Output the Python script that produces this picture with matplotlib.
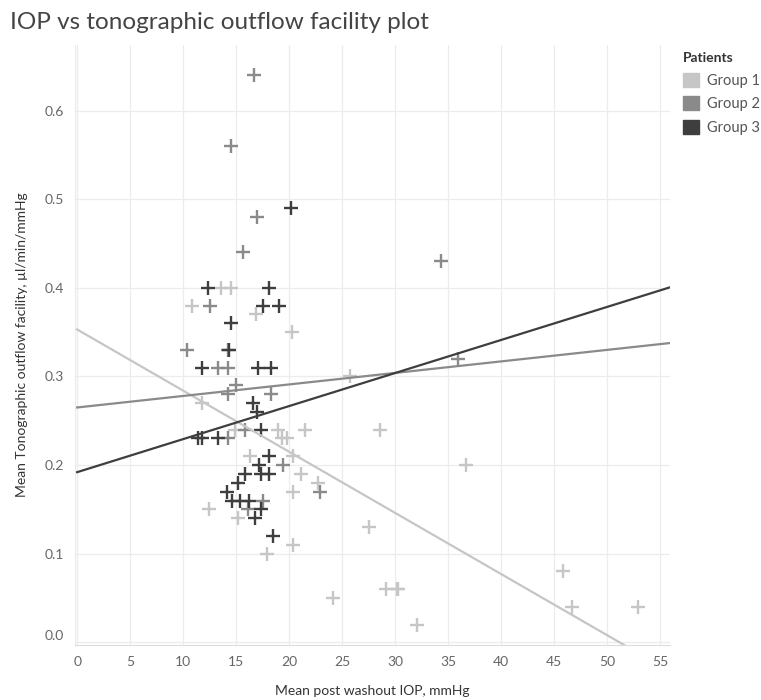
import numpy as np
import matplotlib.pyplot as plt
from matplotlib.patches import Patch

plt.rcParams['font.family'] = ['Lato', 'DejaVu Sans']

# mean post washout IOP (mmHg) and tonographic outflow facility per patient group
g1_iop = [13.6, 14.5, 10.8, 16.9, 20.3, 25.7, 11.8, 14.9, 18.9, 21.5, 28.6,
          19.3, 19.8, 16.3, 20.4, 36.7, 21.1, 22.7, 20.4, 12.4, 15.2, 27.5,
          20.4, 17.9, 45.8, 29.1, 30.2, 30.3, 24.1, 46.7, 52.9, 32.1]
g1_fac = [0.40, 0.40, 0.38, 0.37, 0.35, 0.30, 0.27, 0.24, 0.24, 0.24, 0.24,
          0.23, 0.23, 0.21, 0.21, 0.20, 0.19, 0.18, 0.17, 0.15, 0.14, 0.13,
          0.11, 0.10, 0.08, 0.06, 0.06, 0.06, 0.05, 0.04, 0.04, 0.02]

g2_iop = [16.7, 14.5, 17.0, 15.6, 34.3, 12.5, 10.4, 14.2, 13.3, 14.2, 35.9,
          15.0, 14.2, 18.3, 14.2, 15.8, 19.4, 17.5, 22.9, 16.1]
g2_fac = [0.64, 0.56, 0.48, 0.44, 0.43, 0.38, 0.33, 0.33, 0.31, 0.31, 0.32,
          0.29, 0.28, 0.28, 0.23, 0.24, 0.20, 0.16, 0.17, 0.15]

g3_iop = [20.2, 12.3, 18.1, 17.5, 19.0, 14.5, 14.3, 11.8, 17.1, 18.3, 16.6,
          17.0, 17.3, 11.4, 11.8, 13.3, 18.1, 17.2, 15.8, 17.3, 18.1, 15.2,
          14.1, 14.6, 15.4, 16.2, 17.3, 16.8, 18.5]
g3_fac = [0.49, 0.40, 0.40, 0.38, 0.38, 0.36, 0.33, 0.31, 0.31, 0.31, 0.27,
          0.26, 0.24, 0.23, 0.23, 0.23, 0.21, 0.20, 0.19, 0.19, 0.19, 0.18,
          0.17, 0.16, 0.16, 0.16, 0.15, 0.14, 0.12]

# linear trend per group: intercept, slope
trend_intercept = [0.353, 0.265, 0.192]
trend_slope = [-0.00690, 0.00130, 0.00373]

groups = ['Group 1', 'Group 2', 'Group 3']
colors = ['#c6c6c6', '#8a8a8a', '#3e3e3e']

fig = plt.figure(figsize=(7.61, 7.0), dpi=100)
ax = fig.add_axes([0.0986, 0.0786, 0.7815, 0.8571])

series = [(g1_iop, g1_fac), (g2_iop, g2_fac), (g3_iop, g3_fac)]
for i, (xs, ys) in enumerate(series):
    ax.scatter(xs, ys, marker='+', s=110, linewidths=1.7, color=colors[i], zorder=3 + i)

xlo, xhi = -0.2, 55.9
xx = np.array([0, xhi])
for i in range(3):
    ax.plot(xx, trend_intercept[i] + trend_slope[i] * xx, color=colors[i], lw=1.6, zorder=7)

ax.set_xlim(xlo, xhi)
ax.set_ylim(-0.003, 0.674)
ax.set_xticks(np.arange(0, 56, 5))
ax.set_yticks(np.arange(0, 0.61, 0.1))
ax.set_yticklabels(['%.1f' % v for v in np.arange(0, 0.61, 0.1)])
ax.grid(True, color='#ececec', lw=0.9)
ax.set_axisbelow(True)
for s in ['top', 'right']:
    ax.spines[s].set_visible(False)
ax.spines['left'].set_color('#ececec')
ax.spines['bottom'].set_color('#dcdcdc')
ax.tick_params(colors='#666666', labelsize=10, length=0, pad=8)
# the bottom label sits just above the axis line
ax.get_yticklabels()[0].set_va('bottom')

ax.set_xlabel('Mean post washout IOP, mmHg', fontsize=10, color='#333333', labelpad=12)
ax.set_ylabel('Mean Tonographic outflow facility, µl/min/mmHg', fontsize=10,
              color='#333333', labelpad=12)

fig.text(0.013, 0.968, 'IOP vs tonographic outflow facility plot', fontsize=17.5,
         color='#444444', va='center')

handles = [Patch(facecolor=c, edgecolor=c) for c in colors]
leg = fig.legend(handles, groups, title='Patients', loc='upper left',
                 bbox_to_anchor=(0.897, 0.926), frameon=False, fontsize=10.5,
                 handlelength=1.1, handleheight=1.1, handletextpad=0.55,
                 labelspacing=0.6, borderaxespad=0, borderpad=0)
leg.get_title().set_fontweight('bold')
leg.get_title().set_fontsize(10)
leg.get_title().set_color('#333333')
leg._legend_box.align = 'left'
for t in leg.get_texts():
    t.set_color('#555555')

fig.savefig('out.png', dpi=100)
